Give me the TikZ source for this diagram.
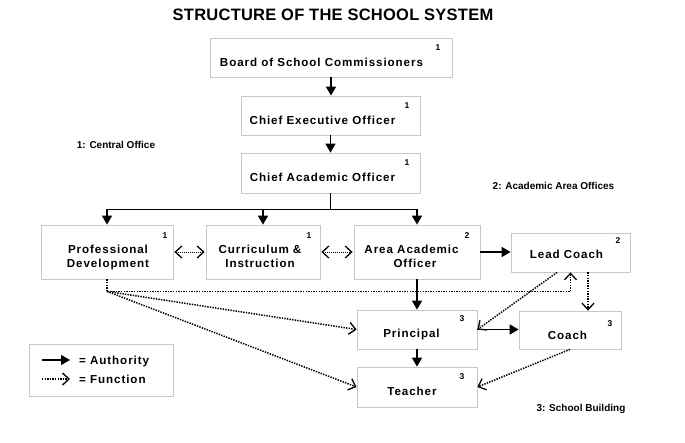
\documentclass[tikz,border=0pt]{standalone}
\usepackage{fontspec}
\setmainfont{Liberation Sans}
\newfontfamily\boxfont[LetterSpace=8]{Liberation Sans}
\newfontfamily\titlefont[LetterSpace=1.5]{Liberation Sans}
\usetikzlibrary{arrows.meta}
\definecolor{boxgray}{HTML}{C8C8C8}
\begin{document}
\begin{tikzpicture}[x=1pt,y=-1pt,
 box/.style={draw=boxgray, line width=0.8pt, inner sep=0pt, fill=white},
 lbl/.style={font=\boxfont\bfseries\fontsize{11.6}{14}\selectfont, anchor=base, inner sep=0pt},
 num/.style={font=\bfseries\fontsize{8.5}{10}\selectfont, inner sep=0pt},
 note/.style={font=\bfseries\fontsize{10}{12}\selectfont, anchor=base, inner sep=0pt},
 auth/.style={line width=1.6pt, -{Triangle[length=9pt,width=10pt]}},
 trunk/.style={line width=1.6pt},
 barb/.tip={Straight Barb[length=6.5pt,width=12pt,line width=1.3pt]},
 func/.style={line width=1.5pt, dash pattern=on 1.4pt off 1.2pt, -barb},
 funcd/.style={line width=1pt, dash pattern=on 1pt off 1pt, barb-barb},
 ]
\useasboundingbox (0,0) rectangle (685,442);

\node[font=\titlefont\bfseries\fontsize{16.5}{20}\selectfont, inner sep=0pt] (title) at (333,15) {STRUCTURE OF THE SCHOOL SYSTEM};

% boxes
\node[box, minimum width=242pt, minimum height=39pt] (board) at (331,57.5) {};
\node[box, minimum width=179pt, minimum height=39pt] (ceo) at (330.5,115.5) {};
\node[box, minimum width=179pt, minimum height=40pt] (cao) at (330.5,173) {};
\node[box, minimum width=132pt, minimum height=54pt] (pd) at (107,252) {};
\node[box, minimum width=114pt, minimum height=54pt] (ci) at (263,252) {};
\node[box, minimum width=126pt, minimum height=54pt] (aao) at (417,252) {};
\node[box, minimum width=119pt, minimum height=39pt] (lead) at (570.5,252.5) {};
\node[box, minimum width=120pt, minimum height=39pt] (principal) at (417,329.5) {};
\node[box, minimum width=102pt, minimum height=38pt] (coach) at (570,330) {};
\node[box, minimum width=120pt, minimum height=40pt] (teacher) at (417,387) {};
\node[box, minimum width=144pt, minimum height=52pt] (legend) at (101,370) {};

% labels
\node[lbl] (tboard) at (321.5,66.2) {Board of School Commissioners};
\node[lbl] (tceo) at (322.5,124.2) {Chief Executive Officer};
\node[lbl] (tcao) at (322.5,181.2) {Chief Academic Officer};
\node[lbl] (tpd1) at (108,253.2) {Professional};
\node[lbl] (tpd2) at (108,267.2) {Development};
\node[lbl] (tci1) at (260,253.2) {Curriculum \&};
\node[lbl] (tci2) at (260,267.2) {Instruction};
\node[lbl] (taao1) at (411.5,253.2) {Area Academic};
\node[lbl] (taao2) at (415,267.2) {Officer};
\node[lbl] (tlead) at (566.5,258.2) {Lead Coach};
\node[lbl] (tprin) at (411.5,337.2) {Principal};
\node[lbl] (tcoach) at (567.5,339.2) {Coach};
\node[lbl] (tteach) at (412,395.2) {Teacher};

% level numbers
\node[num] (nboard) at (438,48) {1};
\node[num] (nceo) at (407,106) {1};
\node[num] (ncao) at (407,163) {1};
\node[num] (npd) at (165,236) {1};
\node[num] (nci) at (309,236) {1};
\node[num] (naao) at (467,236) {2};
\node[num] (nlead) at (618,241) {2};
\node[num] (nprin) at (462,319) {3};
\node[num] (ncoach) at (610,324) {3};
\node[num] (nteach) at (462,377) {3};

% notes
\node[note] (n1) at (116,148.6) {1: Central Office};
\node[note] (n2) at (553.5,189.6) {2: Academic Area Offices};
\node[note] (n3) at (581,411.6) {3: School Building};

% authority connectors
\draw[auth] (board.south) -- (board.south |- ceo.north);
\draw[auth] (ceo.south) -- (ceo.south |- cao.north);
\draw[trunk] (cao.south) -- ++(0,16) coordinate (br);
\draw[auth] (br) -| (pd.north);
\draw[auth] (br) -| (aao.north);
\draw[auth] (ci.north |- br) -- (ci.north);
\draw[auth] (aao.east) -- (aao.east -| lead.west);
\draw[auth] (aao.south) -- (principal.north);
\draw[auth] (principal.south) -- (teacher.north);
\draw[auth] (principal.east) -- (principal.east -| coach.west);

% function connectors
\draw[funcd, shorten <=1pt, shorten >=1pt] (pd.east) -- (ci.west);
\draw[funcd, shorten <=1pt, shorten >=1pt] (ci.east) -- (aao.west);
\draw[func, line width=1.7pt] (pd.south) -- ++(0,12) coordinate (pdj) -| (lead.south);
\draw[func] (pdj) -- (principal.west);
\draw[func] (pdj) -- (teacher.west);
\draw[func] ([xshift=-13.5pt]lead.south) -- (principal.east);
\draw[func, line width=1.7pt] ([xshift=17.5pt]lead.south) -- ([xshift=17.5pt]lead.south |- coach.north);
\draw[func] (coach.south) -- (teacher.east);

% legend
\coordinate (la1) at (42,360);
\coordinate (la2) at (70,360);
\coordinate (lf1) at (42,379);
\coordinate (lf2) at (70,379);
\draw[auth] (la1) -- (la2);
\draw[func, line width=1.2pt] (lf1) -- (lf2);
\node[lbl, anchor=base west] (lta) at (79,364.2) {= Authority};
\node[lbl, anchor=base west] (ltf) at (79,383.2) {= Function};
\end{tikzpicture}
\end{document}
